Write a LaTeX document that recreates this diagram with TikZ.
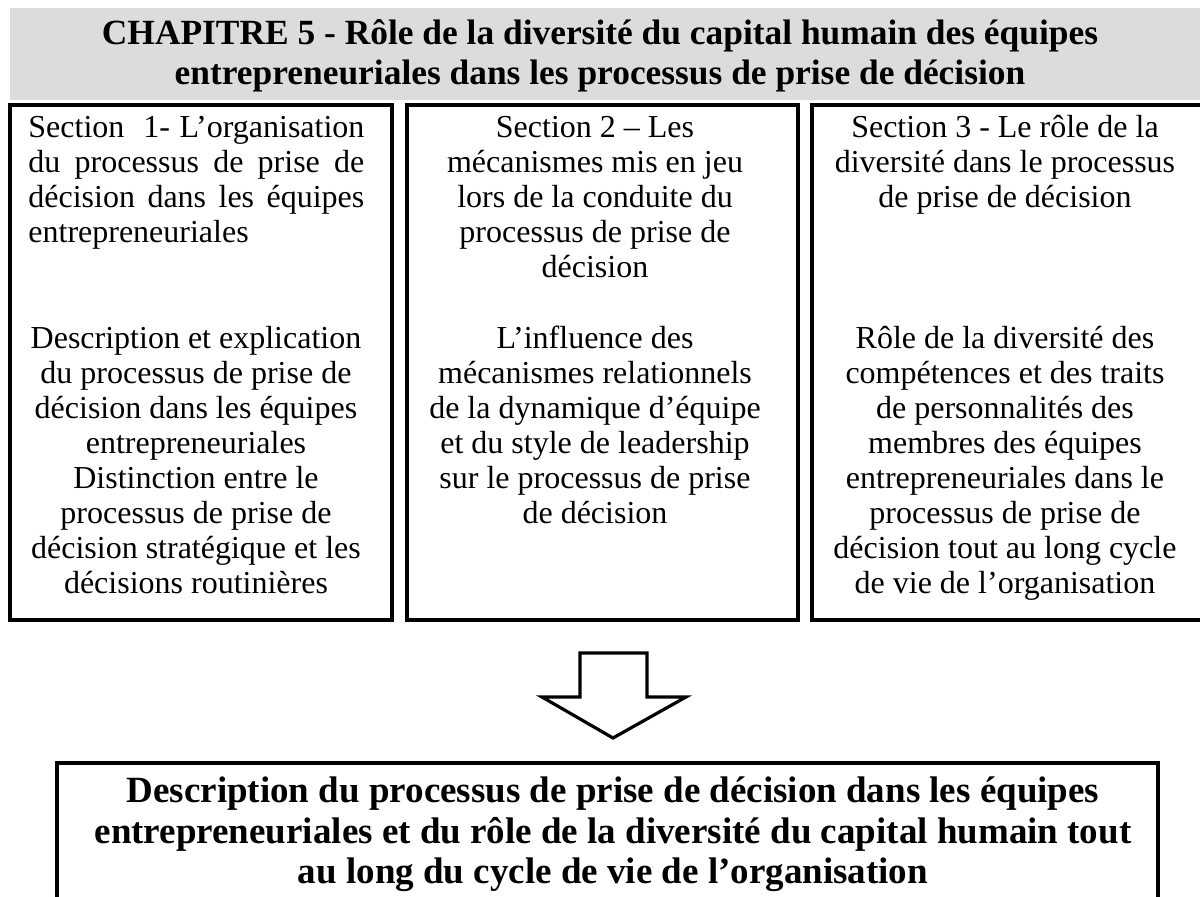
\documentclass[tikz,border=0pt]{standalone}
\usepackage{fontspec}
\setmainfont{Liberation Serif}
\usetikzlibrary{fit}
\definecolor{headgray}{HTML}{DCDCDC}
\tikzset{
  framebox/.style={draw=black, line width=1.75pt, inner sep=0pt, fill=white},
  headband/.style={fill=headgray, draw=none, inner sep=0pt},
  bodytext/.style={font=\fontsize{16}{17.5}\selectfont, inner sep=0pt, anchor=base},
  titletext/.style={font=\bfseries\fontsize{17.7}{20}\selectfont, align=center, inner sep=0pt, anchor=base},
  restext/.style={font=\bfseries\fontsize{18.5}{20}\selectfont, align=center, inner sep=0pt, anchor=base},
  bigarrow/.style={draw=black, line width=1.6pt, fill=white, line join=miter}
}
\begin{document}
\begin{tikzpicture}[x=0.5pt,y=-0.5pt]
\clip (0,0) rectangle (1200,897);
\fill[white] (0,0) rectangle (1200,897);

% header band
\node[headband, fit={(10,8) (1210,100)}] (head) {};
\node[titletext] (headtxt) at (600,85) {CHAPITRE 5 - Rôle de la diversité du capital humain des équipes\\
entrepreneuriales dans les processus de prise de décision};

% section boxes
\node[framebox, fit={(10,105) (392,620)}] (s1) {};
\node[framebox, fit={(407,105) (798,620)}] (s2) {};
\node[framebox, fit={(812,105) (1215,620)}] (s3) {};

% section 1 texts
\node[bodytext, anchor=base west, text width=168pt, align=justify] (s1a) at (28,138) {Section~~1- L'organisation\linebreak
du processus de prise de\linebreak
décision dans les équipes\linebreak
entrepreneuriales};
\node[bodytext, align=center] (s1b) at (196,594) {Description et explication\\
du processus de prise de\\
décision dans les équipes\\
entrepreneuriales\\
Distinction entre le\\
processus de prise de\\
décision stratégique et les\\
décisions routinières};

% section 2 texts
\node[bodytext, align=center] (s2a) at (595,278) {Section 2 -- Les\\
mécanismes mis en jeu\\
lors de la conduite du\\
processus de prise de\\
décision};
\node[bodytext, align=center] (s2b) at (595,524) {L'influence des\\
mécanismes relationnels\\
de la dynamique d'équipe\\
et du style de leadership\\
sur le processus de prise\\
de décision};

% section 3 texts
\node[bodytext, align=center] (s3a) at (1005,208) {Section 3 - Le rôle de la\\
diversité dans le processus\\
de prise de décision};
\node[bodytext, align=center] (s3b) at (1005,594) {Rôle de la diversité des\\
compétences et des traits\\
de personnalités des\\
membres des équipes\\
entrepreneuriales dans le\\
processus de prise de\\
décision tout au long cycle\\
de vie de l'organisation};

% big hollow arrow
\draw[bigarrow] (580,653) -- (647,653) -- (647,697) -- (686,697) -- (613,738) -- (542,697) -- (580,697) -- cycle;

% bottom box
\node[framebox, fit={(57,763) (1158,920)}] (res) {};
\node[restext] (restxt) at (613,883) {Description du processus de prise de décision dans les équipes\\
entrepreneuriales et du rôle de la diversité du capital humain tout\\
au long du cycle de vie de l'organisation};
\end{tikzpicture}
\end{document}
